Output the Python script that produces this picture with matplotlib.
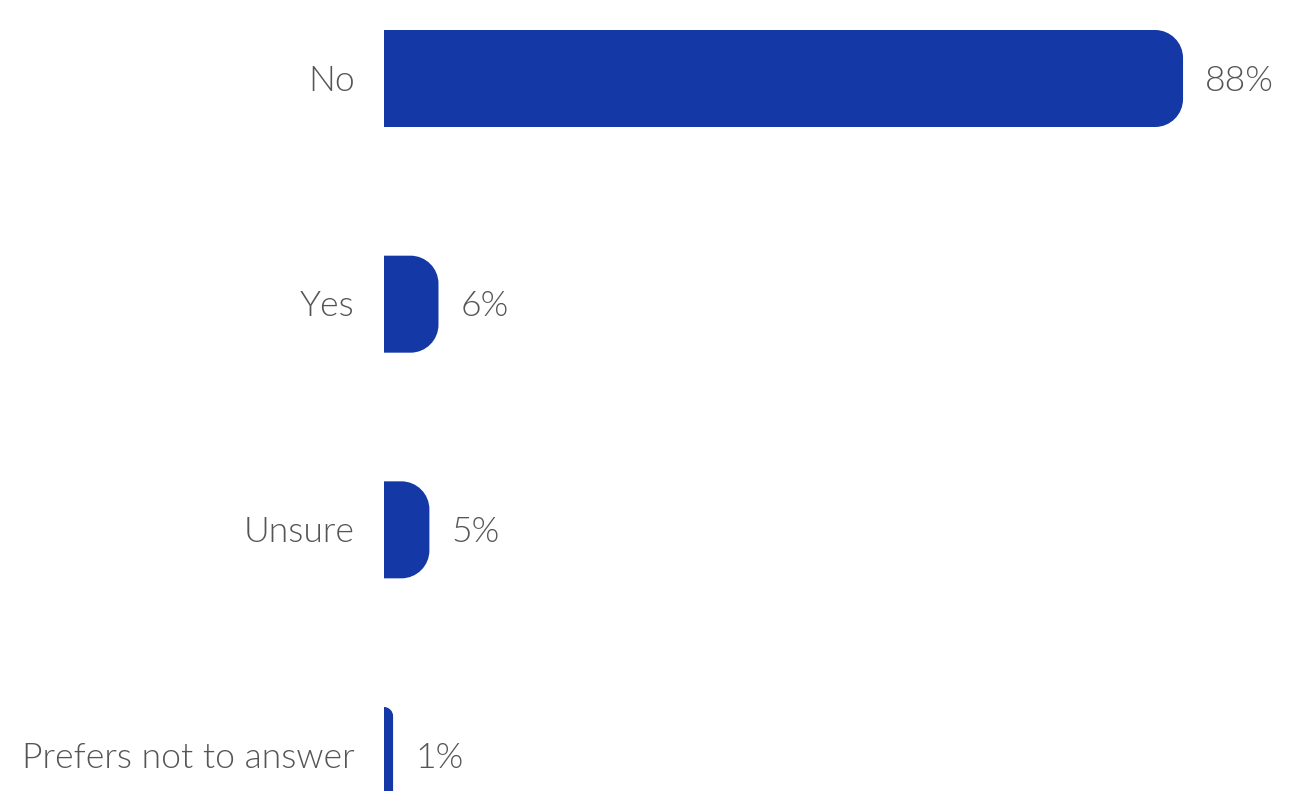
import matplotlib
matplotlib.use("Agg")
import matplotlib.pyplot as plt
from matplotlib.path import Path
from matplotlib.patches import PathPatch

categories = ["No", "Yes", "Unsure", "Prefers not to answer"]
values = [88, 6, 5, 1]
value_labels = ["88%", "6%", "5%", "1%"]

BAR_COLOR = "#1438A6"
TEXT_COLOR = "#555555"
FONT = "Lato"

W, H, DPI = 1316, 791, 100
fig = plt.figure(figsize=(W / DPI, H / DPI), dpi=DPI)
ax_left_px, ax_width_px = 384, 908
ax = fig.add_axes([ax_left_px / W, 0, ax_width_px / W, 1])
ax.set_xlim(0, 100)
row_px = 225.67
first_center_px = 78.5
ax.set_ylim((H - first_center_px) / row_px, -first_center_px / row_px)
ax.axis("off")

px_x = ax_width_px / 100.0     # px per x unit
px_y = row_px                   # px per y unit
bar_h = 97 / row_px
radius_px = 28
K = 0.5523


def rounded_right_bar(y, w, h):
    r_px = min(radius_px, w * px_x, h * px_y / 2)
    rx = r_px / px_x
    ry = r_px / px_y
    top, bot = y - h / 2, y + h / 2
    verts = [
        (0, top), (w - rx, top),
        (w - rx + K * rx, top), (w, top + ry - K * ry), (w, top + ry),
        (w, bot - ry),
        (w, bot - ry + K * ry), (w - rx + K * rx, bot), (w - rx, bot),
        (0, bot), (0, top),
    ]
    codes = [Path.MOVETO, Path.LINETO,
             Path.CURVE4, Path.CURVE4, Path.CURVE4,
             Path.LINETO,
             Path.CURVE4, Path.CURVE4, Path.CURVE4,
             Path.LINETO, Path.CLOSEPOLY]
    return PathPatch(Path(verts, codes), facecolor=BAR_COLOR, edgecolor="none", clip_on=False)


for i, (cat, v, lab) in enumerate(zip(categories, values, value_labels)):
    ax.add_patch(rounded_right_bar(i, v, bar_h))
    ax.annotate(cat, xy=(0, i), xytext=(-21, -1.5), textcoords="offset points",
                ha="right", va="center", fontsize=25.6, color=TEXT_COLOR,
                family=FONT, fontweight=300, annotation_clip=False)
    ax.annotate(lab, xy=(v, i), xytext=(16, -1.5), textcoords="offset points",
                ha="left", va="center", fontsize=25.6, color=TEXT_COLOR,
                family=FONT, fontweight=300, annotation_clip=False)

fig.savefig("out.png", dpi=DPI)
